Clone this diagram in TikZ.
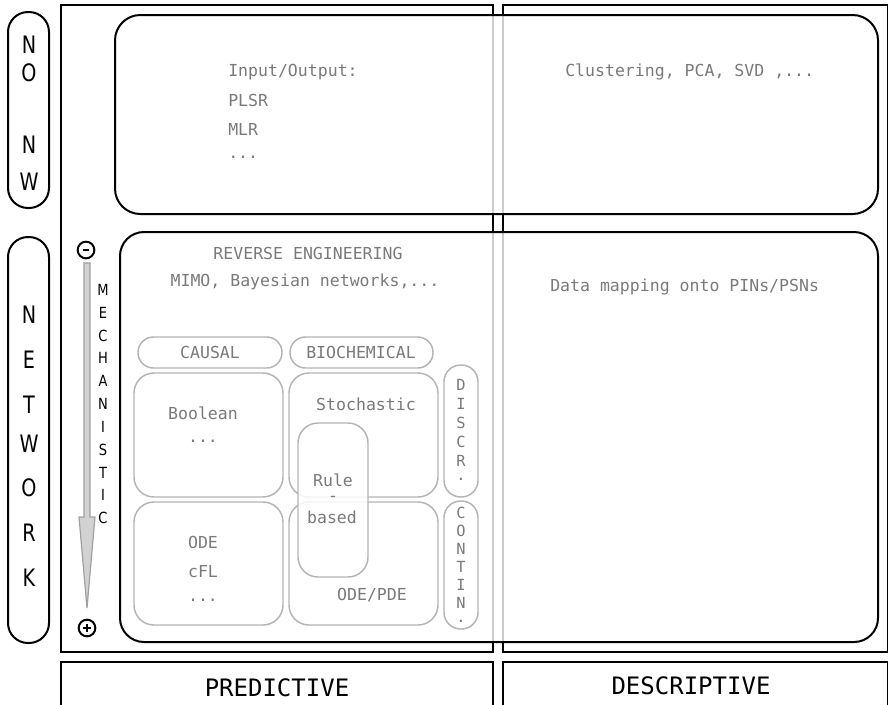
\documentclass[tikz,border=0pt]{standalone}
\usepackage{fontspec}
\setmainfont{Liberation Sans}
\setsansfont{Liberation Sans}
\setmonofont{DejaVu Sans Mono}
\newfontfamily\letfont[FakeStretch=0.8]{DejaVu Sans}
\newfontfamily\mechfont[FakeStretch=0.85]{DejaVu Sans}
\definecolor{txtgray}{HTML}{7A7A7A}
\definecolor{boxgray}{HTML}{B4B4B4}
\definecolor{arrowfill}{HTML}{D2D2D2}
\definecolor{arrowline}{HTML}{A0A0A0}
\begin{document}
\begin{tikzpicture}[x=0.75pt,y=-0.75pt,
 frame/.style={draw=black,line width=1.5pt},
 bigbox/.style={draw=black,line width=1.5pt,fill=white,fill opacity=0.8,rounded corners=19pt},
 pillbox/.style={draw=black,line width=1.5pt,rounded corners=15pt},
 greybox/.style={draw=boxgray,line width=1.1pt,rounded corners=15pt},
 dblbox/.style={draw=black!42,line width=0.7pt,double=white,double distance=0.8pt},
 mono/.style={font=\ttfamily\fontsize{12.4}{14}\selectfont,text=txtgray,inner sep=0pt},
 bigmono/.style={font=\ttfamily\fontsize{18}{20}\selectfont,text=black,inner sep=0pt},
 biglet/.style={font=\letfont\fontsize{18}{18}\selectfont,inner sep=0pt},
 mechlet/.style={font=\mechfont\fontsize{11.5}{12}\selectfont,inner sep=0pt},
 vlet/.style={font=\ttfamily\fontsize{11.5}{11.5}\selectfont,text=txtgray,inner sep=0pt},
 signc/.style={circle,draw=black,line width=1.5pt,minimum size=12.5pt,inner sep=0pt},
]
\clip (0,0) rectangle (888,704);
\fill[white] (0,0) rectangle (888,704);
% column frames
\draw[frame] (61,5) rectangle (493,652);
\draw[frame] (503,5) rectangle (888,652);
\draw[frame] (61,662) rectangle (493,712);
\draw[frame] (503,662) rectangle (888,712);
\node[bigmono] (pred) at (277,688) {PREDICTIVE};
\node[bigmono] (desc) at (691,686) {DESCRIPTIVE};
% row boxes
\draw[bigbox] (115,15) rectangle (878,214);
\draw[bigbox,rounded corners=18pt] (120,232) rectangle (878,642);
% row labels
\draw[pillbox] (8,12) rectangle (49,208);
\draw[pillbox] (8,237) rectangle (49,643);
\foreach \l/\y [count=\i] in {N/45,O/73,N/145,W/182}
  \node[biglet] (nonw\i) at (29,\y) {\l};
\foreach \l/\y [count=\i] in {N/315,E/360,T/405,W/444,O/488,R/533,K/578}
  \node[biglet] (net\i) at (29,\y) {\l};
% upper row texts
\node[mono,anchor=west] (io) at (228,72) {Input/Output:};
\node[mono,anchor=west] (plsr) at (228,100) {PLSR};
\node[mono,anchor=west] (mlr) at (228,129) {MLR};
\node[mono,anchor=west] (dots1) at (228,157) {...};
\node[mono,anchor=west] (clus) at (565,72) {Clustering, PCA, SVD ,...};
\node[mono,anchor=west] (map) at (550,287) {Data mapping onto PINs/PSNs};
% mechanistic scale
\node[signc] (minus) at (86,250) {};
\draw[line width=1.2pt] ([xshift=-2.5pt]minus.center) -- ([xshift=2.5pt]minus.center);
\node[signc] (plus) at (87,628) {};
\draw[line width=1.2pt] ([xshift=-3.2pt]plus.center) -- ([xshift=3.2pt]plus.center);
\draw[line width=1.2pt] ([yshift=-3.2pt]plus.center) -- ([yshift=3.2pt]plus.center);
\draw[fill=arrowfill,draw=arrowline,line width=0.9pt]
  (84,263) -- (90,263) -- (90,517) -- (95,517) -- (87,608) -- (79,517) -- (84,517) -- cycle;
\foreach \l [count=\i] in {M,E,C,H,A,N,I,S,T,I,C}
  \node[mechlet] (mech\i) at (103,{290+22.8*(\i-1)}) {\l};
% reverse engineering
\draw[dblbox] (138,238) rectangle (478,323);
\node[mono] (rev) at (308,253) {REVERSE ENGINEERING};
\node[mono] (mimo) at (305,282) {MIMO, Bayesian networks,...};
% model area
\draw[dblbox] (130,332) rectangle (487,634);
\draw[greybox,rounded corners=11.5pt] (138,337) rectangle (282,368);
\node[mono] (causal) at (210,352) {CAUSAL};
\draw[greybox,rounded corners=11.5pt] (290,337) rectangle (433,368);
\node[mono] (bio) at (361,352) {BIOCHEMICAL};
\draw[greybox] (134,373) rectangle (283,497);
\node[mono] (bool) at (203,413) {Boolean};
\node[mono] (dots2) at (203,441) {...};
\draw[greybox] (289,373) rectangle (438,497);
\node[mono] (stoch) at (366,404) {Stochastic};
\draw[greybox] (134,502) rectangle (283,625);
\node[mono] (ode) at (203,542) {ODE};
\node[mono] (cfl) at (203,572) {cFL};
\node[mono] (dots3) at (203,600) {...};
\draw[greybox] (289,502) rectangle (438,625);
\node[mono] (odepde) at (372,595) {ODE/PDE};
\draw[greybox,fill=white,fill opacity=0.85] (298,423) rectangle (368,577);
\node[mono] (rule) at (333,480) {Rule};
\node[mono] (dash) at (333,499) {-};
\node[mono] (based) at (332,517) {based};
\draw[greybox,rounded corners=12.5pt] (444,365) rectangle (478,497);
\foreach \l/\y [count=\i] in {D/385,I/404,S/423,C/442,R/461,./479}
  \node[vlet] (dis\i) at (461,\y) {\l};
\draw[greybox,rounded corners=12.5pt] (444,501) rectangle (478,629);
\foreach \l/\y [count=\i] in {C/513,O/531,N/549,T/567,I/585,N/603,./621}
  \node[vlet] (con\i) at (461,\y) {\l};
\end{tikzpicture}
\end{document}
